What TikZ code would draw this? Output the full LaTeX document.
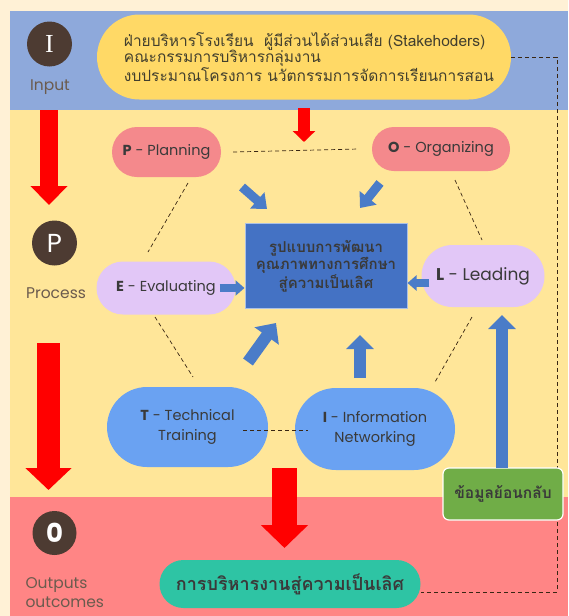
\documentclass[tikz,border=0pt]{standalone}
\usepackage{fontspec}
\setmainfont{Loma}[Script=Thai]
\newfontfamily\lat{Poppins}
\usetikzlibrary{shapes.misc,arrows.meta}
\definecolor{cream}{HTML}{FFF1D6}
\definecolor{inband}{HTML}{8EA9DB}
\definecolor{procband}{HTML}{FFE699}
\definecolor{outband}{HTML}{FF8585}
\definecolor{topy}{HTML}{FFD966}
\definecolor{pinkpill}{HTML}{F4898C}
\definecolor{lavpill}{HTML}{E2C7F7}
\definecolor{boxblue}{HTML}{4472C4}
\definecolor{arrblue}{HTML}{4A7CC8}
\definecolor{skypill}{HTML}{6AA2F2}
\definecolor{greenbox}{HTML}{70AD47}
\definecolor{teal}{HTML}{2EC4A4}
\definecolor{darkc}{HTML}{4D3B32}
\definecolor{lbl}{HTML}{6B5B4E}
\definecolor{txt}{HTML}{3A3A3A}
\begin{document}
\begin{tikzpicture}[x=1pt,y=-1pt,
  pill/.style={rounded rectangle, inner sep=2pt, text=txt},
  circ/.style={circle, fill=darkc, minimum size=45pt, inner sep=0pt, text=white, font=\fontsize{26}{26}\selectfont},
  sidelbl/.style={text=lbl, font=\lat\fontsize{15.5}{19}\selectfont, align=left},
  bluearr/.style={draw=arrblue, line width=#1},
  dline/.style={draw=black!70!brown, dash pattern=on 4pt off 3pt, line width=0.7pt}
]
\useasboundingbox (0,0) rectangle (568,616);
% bands
\fill[cream] (0,0) rectangle (568,616);
\fill[inband] (10,11) rectangle (568,110);
\fill[procband] (10,110) rectangle (568,497);
\fill[outband] (10,497) rectangle (568,616);

% left circles and labels
\node[circ] (ci) at (49.5,44) {\fontspec{Liberation Serif}I};
\node[sidelbl] (li) at (50,87) {Input};
\node[circ] (cp) at (54.5,243) {\lat P};
\node[sidelbl] (lp) at (56,293) {Process};
\node[circ, minimum size=44pt] (co) at (54.5,533) {\lat\bfseries 0};
\node[sidelbl, anchor=west] (lo) at (22,593) {Outputs\\outcomes};

% top pill
\node[pill, fill=topy, minimum width=418pt, minimum height=85pt] (top) at (304,57) {};
\node[align=left, font=\fontsize{15.5}{16.5}\selectfont, text=black!70!olive] (toptext) at (309,57)
  {ฝ่ายบริหารโรงเรียน\ \ ผู้มีส่วนได้ส่วนเสีย (Stakehoders)\\คณะกรรมการบริหารกลุ่มงาน\\งบประมาณโครงการ นวัตกรรมการจัดการเรียนการสอน};

% process pills
\node[pill, fill=pinkpill, minimum width=113pt, minimum height=50pt, font=\lat\fontsize{14.5}{16}\selectfont] (P) at (166.5,152) {\textbf{P} - Planning};
\node[pill, fill=pinkpill, minimum width=142pt, minimum height=44pt, font=\lat\fontsize{14.5}{16}\selectfont] (O) at (441,149) {\textbf{O} - Organizing};
\node[pill, fill=lavpill, minimum width=143pt, minimum height=53pt, font=\lat\fontsize{14.5}{16}\selectfont] (E) at (166,288) {\textbf{E} - Evaluating};
\node[pill, fill=lavpill, minimum width=127pt, minimum height=62pt, font=\lat\fontsize{17}{19}\selectfont] (L) at (483,276) {\textbf{L} - Leading};
\node[pill, fill=skypill, minimum width=165pt, minimum height=80pt, align=center, font=\lat\fontsize{14.5}{20}\selectfont] (T) at (187.5,427) {\textbf{T} - Technical\\Training};
\node[pill, fill=skypill, minimum width=164pt, minimum height=82pt, align=center, font=\lat\fontsize{14.5}{20}\selectfont] (I) at (375,429) {\textbf{I} - Information\\Networking};

% centre box
\node[draw=boxblue!45!white, line width=1pt, fill=boxblue, minimum width=162pt, minimum height=85pt, align=center,
  font=\fontsize{15}{17}\selectfont\bfseries, text=txt] (C) at (326,266)
  {รูปแบบการพัฒนา\\คุณภาพทางการศึกษา\\สู่ความเป็นเลิศ};

% dashed links
\draw[dline] ([xshift=12pt]P.east) -- ([xshift=-13pt]O.west);
\coordinate (pe1) at (188,183); \coordinate (pe2) at (148,252);
\coordinate (ol1) at (455,180); \coordinate (ol2) at (482,240);
\coordinate (et1) at (155,317); \coordinate (et2) at (193,377);
\coordinate (li1) at (472,317); \coordinate (li2) at (435,382);
\coordinate (ti1) at (243,430); \coordinate (ti2) at (308,430);
\draw[dline] (pe1) -- (pe2);
\draw[dline] (ol1) -- (ol2);
\draw[dline] (et1) -- (et2);
\draw[dline] (li1) -- (li2);

% bottom pill and feedback dashed loop
\coordinate (fbx) at (557,0);
\node[pill, fill=teal, minimum width=265pt, minimum height=48pt, font=\fontsize{18}{20}\selectfont\bfseries, text=txt] (B) at (290,584) {การบริหารงานสู่ความเป็นเลิศ};
\draw[dline] (top.east) -- (top.east -| fbx) -- ([yshift=-8pt]B.east -| fbx) -- ([yshift=-8pt]B.east);

% green feedback box
\node[draw=white, line width=1.2pt, fill=greenbox, rounded corners=6pt, minimum width=120pt, minimum height=52pt,
  font=\fontsize{15.5}{17}\selectfont\bfseries, text=txt] (G) at (503,494) {ข้อมูลย้อนกลับ};

\draw[dline] (ti1) -- (ti2);

% blue arrows
\coordinate (a1s) at (242,187); \coordinate (a1e) at (267,209);
\coordinate (a2s) at (380,183); \coordinate (a2e) at (360,208);
\draw[bluearr=9pt, -{Triangle[width=21pt,length=13pt]}] (a1s) -- (a1e);
\draw[bluearr=9pt, -{Triangle[width=21pt,length=13pt]}] (a2s) -- (a2e);
\draw[bluearr=8pt, -{Triangle[width=15pt,length=9pt]}] ([xshift=-16pt]E.east) -- (C.west |- E.east);
\draw[bluearr=8pt, -{Triangle[width=15pt,length=9pt]}] ([xshift=8pt]L.west |- 0,283) coordinate (la) -- (C.east |- la);
\coordinate (a3s) at (248,362); \coordinate (a3e) at (276,323);
\draw[bluearr=12pt, -{Triangle[width=29pt,length=16pt]}] (a3s) -- (a3e);
\coordinate (a4s) at (360,378); \coordinate (a4e) at (360,335);
\draw[bluearr=12pt, -{Triangle[width=27pt,length=14pt]}] (a4s) -- (a4e);
\coordinate (a5s) at (502,468); \coordinate (a5e) at (502,315);
\draw[bluearr=12pt, -{Triangle[width=27pt,length=14pt]}] (a5s) -- (a5e);

% red arrows
\coordinate (r1s) at (49,110); \coordinate (r1e) at (49,205);
\draw[red, line width=18pt, -{Triangle[width=36pt,length=19pt]}] (r1s) -- (r1e);
\coordinate (r2s) at (48.5,343); \coordinate (r2e) at (48.5,490);
\draw[red, line width=23pt, -{Triangle[width=45pt,length=22pt]}] (r2s) -- (r2e);
\coordinate (r3s) at (304,108); \coordinate (r3e) at (304,142);
\draw[red, line width=12pt, -{Triangle[width=22pt,length=11pt]}] (r3s) -- (r3e);
\coordinate (r4s) at (284.5,468); \coordinate (r4e) at (284.5,548);
\draw[red, line width=25pt, -{Triangle[width=46pt,length=23pt]}] (r4s) -- (r4e);
\end{tikzpicture}
\end{document}
